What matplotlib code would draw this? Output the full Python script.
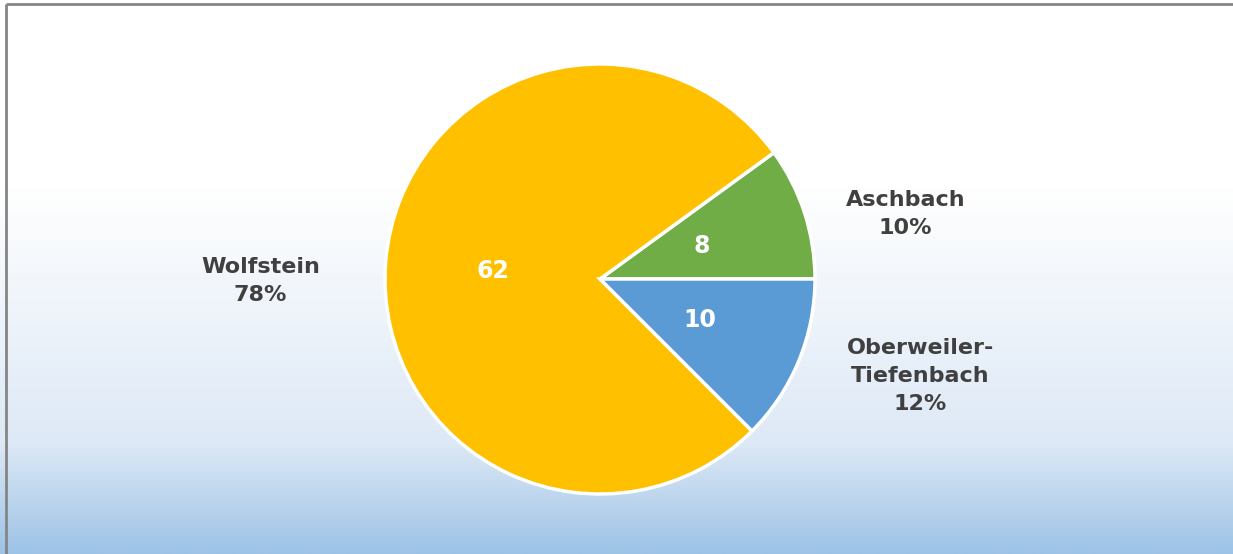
import numpy as np
import matplotlib.pyplot as plt
from matplotlib.colors import LinearSegmentedColormap

# Daten
labels = ['Aschbach', 'Wolfstein', 'Oberweiler-\nTiefenbach']
values = [8, 62, 10]
colors = ['#70AD47', '#FFC000', '#5B9BD5']

W, H = 1233, 554
fig = plt.figure(figsize=(W / 100, H / 100), dpi=100)

# Hintergrund mit Farbverlauf (oben weiss, unten hellblau)
bg = fig.add_axes([0, 0, 1, 1], zorder=0)
cmap = LinearSegmentedColormap.from_list(
    'bg', [(0.0, '#FFFFFF'), (0.34, '#FFFFFF'), (0.5, '#F3F7FC'),
           (0.8, '#DDE9F6'), (1.0, '#9DC3E6')])
grad = np.linspace(0, 1, 256).reshape(-1, 1)
bg.imshow(grad, aspect='auto', cmap=cmap, extent=[0, 1, 0, 1], origin='upper')
bg.set_xlim(0, 1)
bg.set_ylim(0, 1)
bg.axis('off')
# Rahmen oben und links
bg.plot([6 / W, 6 / W], [0, 1 - 4 / H], color='#858585', lw=2, solid_capstyle='butt')
bg.plot([6 / W, 1], [1 - 4 / H, 1 - 4 / H], color='#858585', lw=2, solid_capstyle='butt')

# Kreisdiagramm
cx, cy, r = 600, 279, 215
ax = fig.add_axes([(cx - r) / W, (H - cy - r) / H, 2 * r / W, 2 * r / H], zorder=1)
ax.set_facecolor('none')

wedges, texts, autotexts = ax.pie(
    values, colors=colors, startangle=0, counterclock=True,
    autopct=lambda p: f'{p * sum(values) / 100:.0f}', pctdistance=0.5,
    wedgeprops=dict(edgecolor='white', linewidth=2.5),
    textprops=dict(color='white', fontsize=17, fontweight='bold', family='DejaVu Sans'),
    radius=1)
ax.set_xlim(-1, 1)
ax.set_ylim(-1, 1)
ax.set_aspect('equal')
ax.axis('off')

# Beschriftungen ausserhalb
total = sum(values)
label_pos = [(1.42, 0.30), (-1.58, -0.01), (1.49, -0.45)]
for lab, v, (lx, ly) in zip(labels, values, label_pos):
    ax.text(lx, ly, f'{lab}\n{v / total * 100:.0f}%', ha='center', va='center',
            fontsize=16, fontweight='bold', color='#404040', family='DejaVu Sans',
            linespacing=1.5, clip_on=False)

fig.savefig('out.png', dpi=100)
